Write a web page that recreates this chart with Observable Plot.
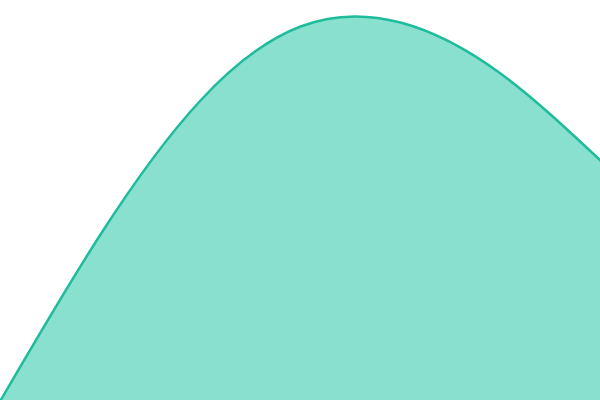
<!DOCTYPE html>
<html>
<head>
<meta charset="utf-8">
<script src="https://cdn.jsdelivr.net/npm/d3@7"></script>
<script src="https://cdn.jsdelivr.net/npm/@observablehq/plot@0.6"></script>
<style>
  html, body { margin: 0; padding: 0; background: #fff; }
  #chart svg { display: block; }
</style>
</head>
<body>
<div id="chart"></div>
<script>
const steps = [0, 1, 2, 3, 4, 5, 6];
const values = [0, 41.5, 75, 93.5, 94.5, 81.75, 60];

const data = steps.map((s, i) => ({ step: s, value: values[i] }));

const chart = Plot.plot({
  width: 600,
  height: 400,
  margin: 0,
  x: { domain: [0, 6], axis: null },
  y: { domain: [0, 100], axis: null },
  marks: [
    Plot.areaY(data, { x: "step", y: "value", fill: "#89e0cf", curve: "natural" }),
    Plot.lineY(data, { x: "step", y: "value", stroke: "#1fbc9c", strokeWidth: 2.5, curve: "natural" })
  ]
});
document.getElementById("chart").appendChild(chart);
</script>
</body>
</html>
